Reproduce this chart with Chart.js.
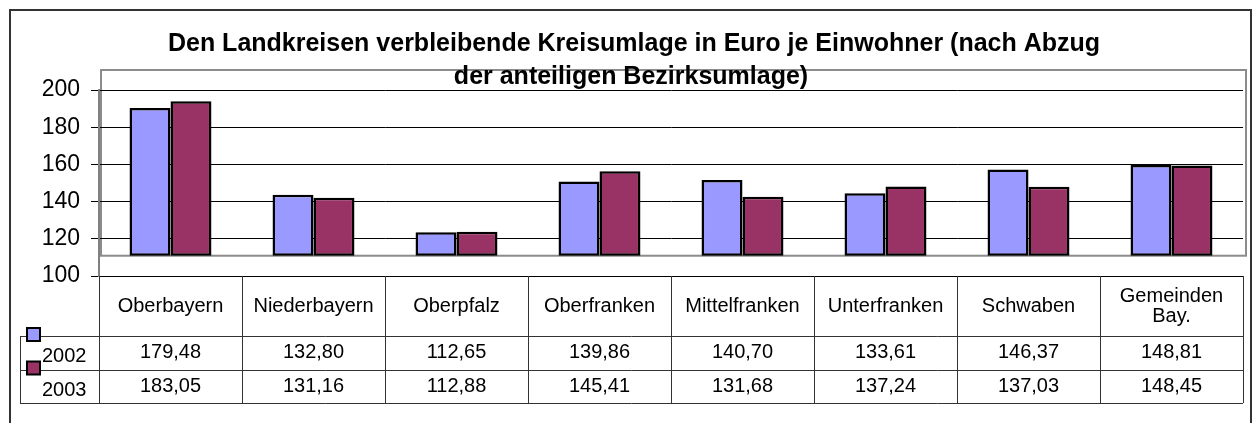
<!DOCTYPE html>
<html>
<head>
<meta charset="utf-8">
<script src="https://cdn.jsdelivr.net/npm/chart.js@4"></script>
<style>
  body { margin: 0; background: #fff; }
  canvas { display: block; }
</style>
</head>
<body>
<canvas id="grafico" width="1253" height="423"></canvas>
<script>
const titel = ["Den Landkreisen verbleibende Kreisumlage in Euro je Einwohner (nach Abzug", "der anteiligen Bezirksumlage)"];
const kategorien = ["Oberbayern", "Niederbayern", "Oberpfalz", "Oberfranken", "Mittelfranken", "Unterfranken", "Schwaben", ["Gemeinden", "Bay."]];
const jahre = ["2002", "2003"];
const werte2002 = [179.48, 132.80, 112.65, 139.86, 140.70, 133.61, 146.37, 148.81];
const werte2003 = [183.05, 131.16, 112.88, 145.41, 131.68, 137.24, 137.03, 148.45];
const achsenTicks = [100, 120, 140, 160, 180, 200];
const farben = ["#9999FF", "#993366"];

// the 3D floor of the original lifts the bars above the 100 line
const bodenAbstand = 10.9;
const schrift = "'Liberation Sans', Arial, sans-serif";

const zahl = v => v.toFixed(2).replace(".", ",");

const tabellePlugin = {
  id: "tabelle",
  beforeDraw(chart) {
    const { ctx, chartArea: a, scales } = chart;
    ctx.save();
    ctx.fillStyle = "#fff";
    ctx.fillRect(0, 0, chart.width, chart.height);
    // outer frame
    ctx.strokeStyle = "#333";
    ctx.lineWidth = 2;
    ctx.strokeRect(10, 10, chart.width - 12, chart.height + 5);
    // back wall
    const boden = scales.yb.getPixelForValue(achsenTicks[0]);
    ctx.strokeStyle = "#8c8c8c";
    ctx.strokeRect(a.left + 2, a.top - 20, a.width + 1, boden - a.top + 20);
    ctx.restore();
  },
  afterDraw(chart) {
    const { ctx, chartArea: a, scales } = chart;
    const x = scales.x;
    const breite = x.getPixelForValue(1) - x.getPixelForValue(0);
    const kopfOben = a.bottom;
    const kopfUnten = a.bottom + 60;
    const zeile = 33.5;
    const unten = kopfUnten + 2 * zeile;
    const links = 20;
    ctx.save();

    // title
    ctx.fillStyle = "#000";
    ctx.textAlign = "center";
    ctx.textBaseline = "alphabetic";
    ctx.font = "bold 25px " + schrift;
    ctx.fillText(titel[0], 634, 51);
    ctx.fillText(titel[1], 631, 84);

    // table lines
    ctx.strokeStyle = "#333";
    ctx.lineWidth = 1;
    ctx.beginPath();
    for (let r = 0; r < 3; r++) {
      const y = Math.round(kopfUnten + r * zeile) + 0.5;
      ctx.moveTo(links, y);
      ctx.lineTo(a.right, y);
    }
    for (let i = 0; i <= kategorien.length; i++) {
      const xx = Math.round(x.getPixelForValue(0) - breite / 2 + i * breite) + 0.5;
      ctx.moveTo(xx, kopfOben);
      ctx.lineTo(xx, unten);
    }
    ctx.moveTo(links + 0.5, kopfUnten);
    ctx.lineTo(links + 0.5, unten);
    ctx.stroke();

    // header
    ctx.font = "20px " + schrift;
    ctx.textBaseline = "middle";
    const kopfMitte = (kopfOben + kopfUnten) / 2;
    kategorien.forEach((k, i) => {
      const cx = x.getPixelForValue(i);
      if (Array.isArray(k)) {
        ctx.fillText(k[0], cx, kopfMitte - 10);
        ctx.fillText(k[1], cx, kopfMitte + 10);
      } else {
        ctx.fillText(k, cx, kopfMitte);
      }
    });

    // values + legend keys
    [werte2002, werte2003].forEach((werte, r) => {
      const oben = kopfUnten + r * zeile;
      const mitte = oben + zeile / 2;
      ctx.textAlign = "center";
      werte.forEach((v, i) => ctx.fillText(zahl(v), x.getPixelForValue(i), mitte));
      ctx.fillStyle = farben[r];
      ctx.fillRect(27, oben - 8, 13, 13);
      ctx.strokeStyle = "#000";
      ctx.lineWidth = 2;
      ctx.strokeRect(27, oben - 8, 13, 13);
      ctx.fillStyle = "#000";
      ctx.textAlign = "left";
      ctx.fillText(jahre[r], 42, mitte + 4);
    });
    ctx.restore();
  }
};

new Chart(document.getElementById("grafico").getContext("2d"), {
  type: "bar",
  data: {
    labels: kategorien,
    datasets: [werte2002, werte2003].map((werte, i) => ({
      label: jahre[i],
      data: werte,
      backgroundColor: farben[i],
      borderColor: "#000",
      borderWidth: 2.5,
      borderSkipped: false,
      base: achsenTicks[0],
      yAxisID: "yb",
      categoryPercentage: 0.573,
      barPercentage: 1
    }))
  },
  options: {
    responsive: false,
    animation: false,
    layout: { padding: { top: 90, bottom: 147, left: 0, right: 10 } },
    plugins: {
      legend: { display: false },
      title: { display: false },
      tooltip: { enabled: false }
    },
    scales: {
      x: { display: false, offset: true },
      y: {
        min: achsenTicks[0],
        max: achsenTicks[achsenTicks.length - 1],
        ticks: {
          stepSize: achsenTicks[1] - achsenTicks[0],
          color: "#000",
          padding: 11,
          font: { family: schrift, size: 23 }
        },
        grid: { color: "#000", lineWidth: 1, tickLength: 8 },
        border: { color: "#808080", width: 2 },
        afterFit(s) { s.width = 99; }
      },
      yb: {
        display: false,
        min: achsenTicks[0] - bodenAbstand,
        max: achsenTicks[achsenTicks.length - 1] - bodenAbstand
      }
    }
  },
  plugins: [tabellePlugin]
});
</script>
</body>
</html>
